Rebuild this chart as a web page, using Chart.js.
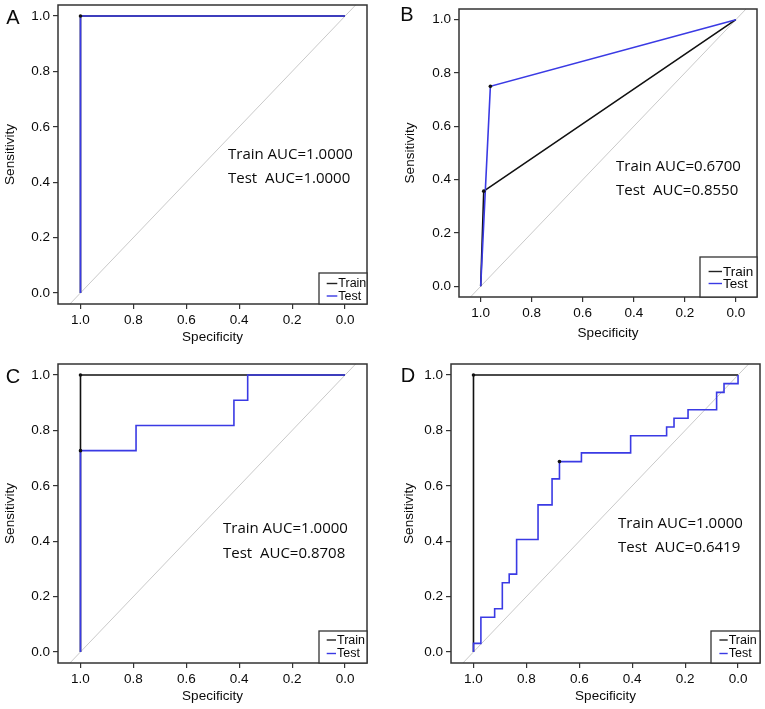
<!DOCTYPE html>
<html>
<head>
<meta charset="utf-8">
<script src="https://cdn.jsdelivr.net/npm/chart.js@4.4.1/dist/chart.umd.min.js"></script>
<style>
  html, body { margin: 0; padding: 0; background: #fff; }
  #wrap { position: relative; width: 765px; height: 709px; overflow: hidden; }
  #wrap canvas { position: absolute; }
</style>
</head>
<body>
<div id="wrap">
  <canvas id="panelA" width="382" height="350" style="left:0px;top:0px"></canvas>
  <canvas id="panelB" width="382" height="350" style="left:383px;top:0px"></canvas>
  <canvas id="panelC" width="382" height="359" style="left:0px;top:350px"></canvas>
  <canvas id="panelD" width="382" height="359" style="left:383px;top:350px"></canvas>
</div>
<script>
// ejes
const specTicks = [1.0, 0.8, 0.6, 0.4, 0.2, 0.0];
const sensTicks = [0.0, 0.2, 0.4, 0.6, 0.8, 1.0];

// A
const aTrainSpec = [1, 1, 0];
const aTrainSens = [0, 1, 1];
const aTestSpec = [1, 1, 0];
const aTestSens = [0, 1, 1];
const aDotSpec = [1];
const aDotSens = [1];

// B
const bTrainSpec = [1, 0.988, 0];
const bTrainSens = [0, 0.357, 1];
const bTestSpec = [1, 0.962, 0];
const bTestSens = [0, 0.75, 1];
const bDotSpec = [0.988, 0.962];
const bDotSens = [0.357, 0.75];

// C
const cTrainSpec = [1, 1, 0];
const cTrainSens = [0, 1, 1];
const cTestSpec = [1, 1, 0.79, 0.79, 0.42, 0.42, 0.368, 0.368, 0];
const cTestSens = [0, 0.727, 0.727, 0.818, 0.818, 0.909, 0.909, 1, 1];
const cDotSpec = [1, 1];
const cDotSens = [1, 0.727];

// D
const dTrainSpec = [1, 1, 0];
const dTrainSens = [0, 1, 1];
const dTestSpec = [1, 1, 0.972, 0.972, 0.92, 0.92, 0.891, 0.891, 0.865, 0.865, 0.837, 0.837,
  0.756, 0.756, 0.703, 0.703, 0.675, 0.675, 0.592, 0.592, 0.406, 0.406, 0.27, 0.27,
  0.242, 0.242, 0.189, 0.189, 0.081, 0.081, 0.053, 0.053, 0, 0];
const dTestSens = [0, 0.031, 0.031, 0.125, 0.125, 0.156, 0.156, 0.25, 0.25, 0.281, 0.281, 0.406,
  0.406, 0.531, 0.531, 0.625, 0.625, 0.6875, 0.6875, 0.719, 0.719, 0.781, 0.781, 0.8125,
  0.8125, 0.844, 0.844, 0.875, 0.875, 0.9375, 0.9375, 0.969, 0.969, 1];
const dDotSpec = [1, 0.675];
const dDotSens = [1, 0.6875];

const panelLetters = ['A', 'B', 'C', 'D'];
const trainAuc = ['1.0000', '0.6700', '1.0000', '1.0000'];
const testAuc = ['1.0000', '0.8550', '0.8708', '0.6419'];
const legendLabels = ['Train', 'Test'];

const BLUE = '#3a3ae4';
const FRAME = '#333';
const TEXT = '#0a0a0a';
const AXIS_FONT = "'Liberation Sans', Arial, sans-serif";

function xy(xs, ys) {
    return xs.map(function (x, i) { return { x: x, y: ys[i] }; });
}

// diagonal, marco, letra, AUC y leyenda
const rocDecor = {
    id: 'rocDecor',
    beforeDatasetsDraw(chart, args, o) {
        const ctx = chart.ctx, a = chart.chartArea;
        const sx = chart.scales.x, sy = chart.scales.y;
        ctx.save();
        ctx.beginPath();
        ctx.rect(a.left, a.top, a.right - a.left, a.bottom - a.top);
        ctx.clip();
        ctx.strokeStyle = '#c9c9c9';
        ctx.lineWidth = 1;
        ctx.beginPath();
        ctx.moveTo(sx.getPixelForValue(1.2), sy.getPixelForValue(-0.2));
        ctx.lineTo(sx.getPixelForValue(-0.2), sy.getPixelForValue(1.2));
        ctx.stroke();
        ctx.restore();
    },
    afterDraw(chart, args, o) {
        const ctx = chart.ctx, a = chart.chartArea;
        ctx.save();
        // marco
        ctx.strokeStyle = FRAME;
        ctx.lineWidth = 1.5;
        ctx.strokeRect(a.left, a.top, a.right - a.left, a.bottom - a.top);

        // letra del panel
        ctx.fillStyle = TEXT;
        ctx.font = '20px ' + AXIS_FONT;
        ctx.textAlign = 'center';
        ctx.textBaseline = 'middle';
        ctx.fillText(o.letter, o.letterAt[0], o.letterAt[1]);

        // AUC
        ctx.font = o.textSize + "px 'Open Sans', sans-serif";
        ctx.textAlign = 'left';
        ctx.fillText('Train AUC=' + o.train, o.textAt[0], o.textAt[1]);
        ctx.fillText('Test  AUC=' + o.test, o.textAt[0], o.textAt[2]);

        // leyenda
        const L = o.legend;
        ctx.fillStyle = '#fff';
        ctx.fillRect(L.x, L.y, L.w, L.h);
        ctx.strokeStyle = FRAME;
        ctx.lineWidth = 1.3;
        ctx.strokeRect(L.x, L.y, L.w, L.h);
        const cols = ['#222', BLUE];
        ctx.font = L.size + 'px ' + AXIS_FONT;
        for (let i = 0; i < 2; i++) {
            ctx.strokeStyle = cols[i];
            ctx.lineWidth = 1.4;
            ctx.beginPath();
            ctx.moveTo(L.x + L.line[0], L.rows[i]);
            ctx.lineTo(L.x + L.line[0] + L.line[1], L.rows[i]);
            ctx.stroke();
            ctx.fillStyle = TEXT;
            ctx.fillText(legendLabels[i], L.x + L.line[0] + L.line[1] + 1, L.rows[i] + 0.5);
        }
        ctx.restore();
    }
};

function inicializarPanel(p, idx) {
    const canvas = document.getElementById(p.id);
    const W = canvas.width, H = canvas.height;
    const ar = p.area;
    new Chart(canvas.getContext('2d'), {
        type: 'scatter',
        data: {
            datasets: [{
                data: xy(p.trainSpec, p.trainSens),
                showLine: true,
                borderColor: '#111',
                borderWidth: 1.6,
                pointRadius: 0,
                order: 3
            }, {
                data: xy(p.testSpec, p.testSens),
                showLine: true,
                borderColor: BLUE,
                borderWidth: 1.6,
                pointRadius: 0,
                order: 2
            }, {
                data: xy(p.dotSpec, p.dotSens),
                showLine: false,
                pointRadius: 1.8,
                pointBorderWidth: 0,
                pointBackgroundColor: '#111',
                order: 1
            }]
        },
        options: {
            responsive: false,
            animation: false,
            devicePixelRatio: 1,
            layout: {
                padding: {
                    left: ar.left - p.yw,
                    right: W - ar.right,
                    top: ar.top,
                    bottom: H - ar.bottom - p.xh
                }
            },
            scales: {
                x: {
                    type: 'linear',
                    reverse: true,
                    min: -0.083,
                    max: 1.085,
                    afterBuildTicks: function (s) { s.ticks = specTicks.map(function (v) { return { value: v }; }); },
                    afterFit: function (s) {
                        s.height = p.xh;
                        s.paddingLeft = s.paddingRight = s.paddingTop = s.paddingBottom = 0;
                    },
                    border: { display: false },
                    grid: { drawOnChartArea: false, drawTicks: true, tickLength: 5, color: FRAME, lineWidth: 1.2 },
                    ticks: {
                        padding: 3,
                        color: TEXT,
                        font: { family: AXIS_FONT, size: 13.5 },
                        callback: function (v) { return Number(v).toFixed(1); }
                    },
                    title: {
                        display: true,
                        text: 'Specificity',
                        color: TEXT,
                        padding: 0,
                        font: { family: AXIS_FONT, size: 13.5 }
                    }
                },
                y: {
                    type: 'linear',
                    min: -0.04,
                    max: 1.04,
                    afterBuildTicks: function (s) { s.ticks = sensTicks.map(function (v) { return { value: v }; }); },
                    afterFit: function (s) {
                        s.width = p.yw;
                        s.paddingLeft = s.paddingRight = s.paddingTop = s.paddingBottom = 0;
                    },
                    border: { display: false },
                    grid: { drawOnChartArea: false, drawTicks: true, tickLength: 5, color: FRAME, lineWidth: 1.2 },
                    ticks: {
                        padding: 3,
                        color: TEXT,
                        font: { family: AXIS_FONT, size: 13.5 },
                        callback: function (v) { return Number(v).toFixed(1); }
                    },
                    title: {
                        display: true,
                        text: 'Sensitivity',
                        color: TEXT,
                        padding: 0,
                        font: { family: AXIS_FONT, size: 13.5 }
                    }
                }
            },
            plugins: {
                legend: { display: false },
                tooltip: { enabled: false },
                rocDecor: {
                    letter: panelLetters[idx],
                    letterAt: p.letterAt,
                    train: trainAuc[idx],
                    test: testAuc[idx],
                    textAt: p.textAt,
                    textSize: 15,
                    legend: p.legend
                }
            }
        },
        plugins: [rocDecor]
    });
}

const panels = [
    {
        id: 'panelA', trainSpec: aTrainSpec, trainSens: aTrainSens, testSpec: aTestSpec, testSens: aTestSens,
        dotSpec: aDotSpec, dotSens: aDotSens,
        area: { left: 58, top: 5, right: 367, bottom: 304 }, yw: 56, xh: 41,
        letterAt: [13, 18], textAt: [228, 155, 179],
        legend: { x: 319, y: 273, w: 48, h: 31, line: [7.7, 10.6], rows: [283.5, 296], size: 12.5 }
    },
    {
        id: 'panelB', trainSpec: bTrainSpec, trainSens: bTrainSens, testSpec: bTestSpec, testSens: bTestSens,
        dotSpec: bDotSpec, dotSens: bDotSens,
        area: { left: 76, top: 9, right: 374, bottom: 297 }, yw: 57, xh: 44,
        letterAt: [24, 15], textAt: [233, 167, 191],
        legend: { x: 317, y: 257, w: 57, h: 40, line: [8.6, 13.4], rows: [271.5, 283.5], size: 13.5 }
    },
    {
        id: 'panelC', trainSpec: cTrainSpec, trainSens: cTrainSens, testSpec: cTestSpec, testSens: cTestSens,
        dotSpec: cDotSpec, dotSens: cDotSens,
        area: { left: 58, top: 14, right: 367, bottom: 313 }, yw: 56, xh: 41.5,
        letterAt: [13, 27], textAt: [223, 179, 204],
        legend: { x: 319, y: 281, w: 48, h: 32, line: [7.7, 9.3], rows: [290, 303.5], size: 12.5 }
    },
    {
        id: 'panelD', trainSpec: dTrainSpec, trainSens: dTrainSens, testSpec: dTestSpec, testSens: dTestSens,
        dotSpec: dDotSpec, dotSens: dDotSens,
        area: { left: 68, top: 14, right: 377, bottom: 313 }, yw: 50, xh: 41.5,
        letterAt: [25, 26], textAt: [235, 174, 197.5],
        legend: { x: 328, y: 281, w: 49, h: 32, line: [8.4, 8.3], rows: [290, 303.5], size: 12.5 }
    }
];

panels.forEach(inicializarPanel);
</script>
</body>
</html>
